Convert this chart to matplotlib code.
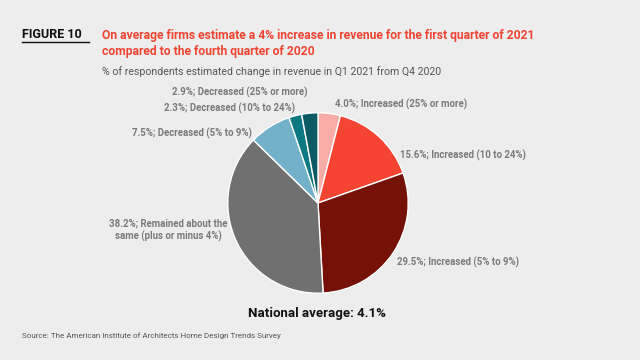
import matplotlib.pyplot as plt

plt.rcParams['font.family'] = ['Roboto', 'DejaVu Sans']

categories = [
    "Increased (25% or more)",
    "Increased (10 to 24%)",
    "Increased (5% to 9%)",
    "Remained about the\nsame (plus or minus 4%)",
    "Decreased (5% to 9%)",
    "Decreased (10% to 24%)",
    "Decreased (25% or more)",
]
shares = [4.0, 15.6, 29.5, 38.2, 7.5, 2.3, 2.9]
colors = ['#f7aca8', '#f64433', '#761108', '#707070', '#72b1c9', '#0b7882', '#0c5a63']

# label anchor positions in figure pixels (x, y from top) and alignment
label_pos = [
    (335, 104, 'left'),
    (400, 155, 'left'),
    (397, 262, 'left'),
    (168, 230, 'center'),
    (252, 133, 'right'),
    (295, 108, 'right'),
    (307, 92, 'right'),
]

BG = '#ededed'
W, H = 640, 360
fig = plt.figure(figsize=(6.4, 3.6), dpi=100, facecolor=BG)

cx, cy, r = 318, 203, 92
ax = fig.add_axes([(cx - r) / W, (H - cy - r) / H, 2 * r / W, 2 * r / H])
ax.set_facecolor(BG)
ax.pie(shares, colors=colors, startangle=90, counterclock=False, radius=1,
       wedgeprops=dict(edgecolor='white', linewidth=1))
ax.set_xlim(-1.02, 1.02)
ax.set_ylim(-1.02, 1.02)
ax.axis('off')

for val, cat, (px, py, ha) in zip(shares, categories, label_pos):
    fig.text(px / W, 1 - py / H, f"{val:.1f}%; {cat}", ha=ha, va='center',
             fontsize=6.9, fontweight='bold', color='#7a7a7a', linespacing=1.3,
             multialignment='center')

fig.text(22 / W, 1 - 35 / H, "FIGURE 10", fontsize=9, fontweight='bold', color='#111111',
         va='center')
fig.add_artist(plt.Line2D([22 / W, 89 / W], [1 - 42 / H, 1 - 42 / H], color='#111111', lw=1))
fig.text(102 / W, 1 - 35 / H,
         "On average firms estimate a 4% increase in revenue for the first quarter of 2021",
         fontsize=8.75, fontweight='bold', color='#f04532', va='center')
fig.text(102 / W, 1 - 52 / H, "compared to the fourth quarter of 2020",
         fontsize=8.75, fontweight='bold', color='#f04532', va='center')
fig.text(102 / W, 1 - 72 / H,
         "% of respondents estimated change in revenue in Q1 2021 from Q4 2020",
         fontsize=7.6, color='#555555', va='center')
fig.text(317 / W, 1 - 313 / H, "National average: 4.1%", fontsize=9.5, fontweight='bold',
         color='#111111', ha='center', va='center')
fig.text(22 / W, 1 - 336 / H, "Source: The American Institute of Architects Home Design Trends Survey",
         fontsize=5.8, color='#555555', va='center')

fig.savefig('out.png', dpi=100, facecolor=BG)
